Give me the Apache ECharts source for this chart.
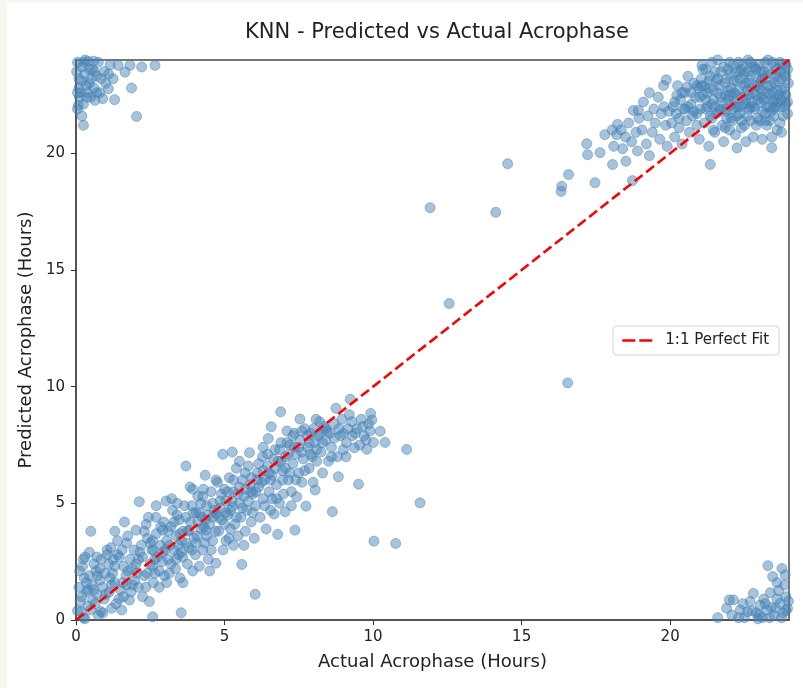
<!DOCTYPE html>
<html>
<head>
<meta charset="utf-8">
<title>KNN - Predicted vs Actual Acrophase</title>
<script src="https://cdn.jsdelivr.net/npm/echarts@6/dist/echarts.min.js"></script>
<style>
  html, body { margin: 0; padding: 0; background: #f8f6f1; }
  #chart { position: absolute; left: 7px; top: 3px; width: 796px; height: 685px; background: #fff; }
</style>
</head>
<body>
<div id="chart"></div>
<script>
// actual vs predicted acrophase (hours)
const lowBand = [
  [0.05,0.4],[0.1,1.4],[0.12,2.1],[0.17,0.36],[0.2,1.0],[0.22,2.3],[0.25,0.1],[0.28,1.8],[0.3,2.7],[0.35,1.2],
  [0.4,0.6],[0.45,1.9],[0.45,2.9],[0.5,0.43],[0.5,3.8],[0.55,1.5],[0.56,0.86],[0.6,2.4],[0.67,2.1],[0.7,1.1],
  [0.75,0.2],[0.8,1.7],[0.84,0.36],[0.85,2.6],[0.9,1.4],[0.95,0.9],[0.98,2.0],[0.3,0.05],[0.65,0.7],
  [0.15,0.8],[0.35,1.6],[0.6,1.3],[0.7,2.7],[0.9,0.3],[0.25,2.6],[0.72,1.9],[0.4,1.3],[0.8,2.2],
  [1.05,3.0],[1.1,2.4],[1.12,1.2],[1.18,3.1],[1.2,0.5],[1.23,2.0],[1.3,1.6],[1.31,3.8],[1.35,0.7],[1.4,2.8],
  [1.46,2.7],[1.5,1.3],[1.54,0.43],[1.57,1.6],[1.6,2.3],[1.63,4.2],[1.68,1.9],[1.7,3.3],[1.74,3.6],[1.8,0.86],
  [1.82,2.6],[1.85,1.2],[1.9,2.2],[1.95,3.0],[1.98,1.7],[1.4,3.4],[1.25,2.6],
  [1.0,1.1],[1.15,1.8],[1.3,2.3],[1.45,0.9],[1.6,1.0],[1.75,2.1],[1.9,1.5],[1.55,3.0],[1.05,2.8],[1.2,1.5],[1.7,1.5],
  [2.02,2.4],[2.02,3.85],[2.1,1.4],[2.13,5.07],[2.2,3.2],[2.24,2.7],[2.24,1.0],[2.3,1.9],[2.36,4.1],[2.4,3.5],
  [2.44,4.4],[2.47,0.79],[2.5,2.4],[2.55,3.0],[2.58,2.3],[2.58,3.4],[2.58,0.14],[2.6,1.6],[2.65,2.0],[2.69,4.4],
  [2.7,3.7],[2.75,2.7],[2.8,1.4],[2.85,3.2],[2.9,2.5],[2.92,3.85],[2.92,2.9],[2.95,4.2],[2.98,1.9],
  [2.05,2.0],[2.15,2.9],[2.3,3.8],[2.35,1.4],[2.5,3.3],[2.65,2.6],[2.8,2.1],[2.85,4.0],[2.7,4.9],
  [2.1,2.6],[2.4,2.0],[2.6,3.0],
  [3.03,5.1],[3.05,3.4],[3.1,2.6],[3.14,2.0],[3.2,4.0],[3.22,5.2],[3.25,4.7],[3.3,3.0],[3.35,2.2],[3.37,3.6],
  [3.37,2.6],[3.4,4.5],[3.45,3.2],[3.48,4.3],[3.5,1.8],[3.54,0.31],[3.55,2.9],[3.59,2.7],[3.6,3.8],[3.65,4.9],
  [3.7,6.6],[3.7,3.3],[3.75,2.4],[3.81,3.85],[3.84,5.7],[3.85,4.2],[3.9,3.0],[3.93,2.1],[3.93,5.6],[3.95,4.6],
  [3.98,3.5],[3.6,1.6],
  [3.0,3.0],[3.1,3.8],[3.2,2.4],[3.3,4.2],[3.45,2.8],[3.55,3.4],[3.7,4.4],[3.8,3.1],[3.9,4.9],[3.4,5.0],[3.05,1.6],
  [3.15,3.2],[3.5,3.7],[3.75,3.8],
  [4.02,2.8],[4.04,4.6],[4.08,3.6],[4.1,5.3],[4.15,2.3],[4.2,3.9],[4.25,4.4],[4.27,5.3],[4.27,3.0],[4.29,5.6],
  [4.32,3.3],[4.38,3.85],[4.4,4.9],[4.45,2.6],[4.5,4.1],[4.55,5.5],[4.6,3.4],[4.65,4.7],[4.71,6.0],[4.71,4.57],
  [4.71,2.43],[4.76,5.9],[4.8,3.8],[4.85,5.1],[4.9,4.3],[4.94,7.1],[4.95,3.0],[5.0,5.6],[4.5,2.1],[4.35,6.2],
  [4.05,3.3],[4.1,4.2],[4.2,5.0],[4.3,4.0],[4.45,4.5],[4.55,3.0],[4.6,5.0],[4.7,3.8],[4.8,4.4],[4.9,5.4],[4.4,3.6],
  [4.15,4.6],[4.35,4.3],[4.6,4.4],[4.85,4.8],
  [5.05,3.4],[5.05,5.1],[5.1,4.5],[5.16,6.1],[5.2,3.9],[5.26,7.2],[5.27,4.85],[5.3,5.5],[5.35,4.1],[5.4,6.5],
  [5.45,3.6],[5.5,5.0],[5.55,4.4],[5.58,2.38],[5.6,6.0],[5.65,5.3],[5.7,3.8],[5.75,4.7],[5.8,6.6],[5.84,7.17],
  [5.86,5.8],[5.9,4.2],[5.95,5.4],[6.0,3.5],[6.03,1.1],[5.3,3.2],[5.5,6.8],
  [5.0,4.1],[5.1,5.5],[5.2,4.7],[5.3,6.0],[5.4,4.4],[5.5,5.7],[5.6,4.8],[5.7,6.3],[5.8,5.1],[5.9,6.1],[5.95,4.6],
  [5.15,3.5],[5.65,3.2],[5.05,4.6],[5.25,5.1],[5.45,5.4],[5.7,5.6],[5.9,5.5],
  [6.05,4.9],[6.1,6.3],[6.15,5.7],[6.2,4.4],[6.28,7.0],[6.3,5.2],[6.35,6.0],[6.4,3.9],[6.45,6.6],[6.47,7.78],
  [6.5,5.5],[6.55,4.7],[6.57,8.28],[6.6,6.2],[6.67,4.54],[6.7,7.3],[6.75,5.8],[6.79,3.67],[6.8,6.8],[6.85,5.0],
  [6.89,8.92],[6.9,7.6],[6.95,6.4],[6.98,5.4],[6.3,7.4],
  [6.05,5.5],[6.15,6.7],[6.25,5.9],[6.35,4.9],[6.45,7.1],[6.55,6.0],[6.65,6.9],[6.75,5.2],[6.85,7.3],[6.95,6.0],
  [6.6,5.2],[6.1,6.0],[6.3,6.4],[6.5,6.3],[6.7,6.5],[6.9,6.8],
  [7.04,4.64],[7.05,7.0],[7.1,8.1],[7.15,6.0],[7.2,7.5],[7.25,5.5],[7.3,6.7],[7.35,8.0],[7.37,3.85],[7.4,7.1],
  [7.43,5.28],[7.5,6.3],[7.54,8.61],[7.55,7.7],[7.6,5.9],[7.65,6.9],[7.7,8.2],[7.74,4.88],[7.8,7.4],[7.85,6.5],
  [7.9,8.0],[7.95,7.0],[7.98,5.9],
  [7.05,6.5],[7.1,7.6],[7.2,6.3],[7.3,7.9],[7.4,6.0],[7.5,7.4],[7.6,8.1],[7.7,6.4],[7.8,7.9],[7.9,7.1],[7.25,4.9],
  [7.15,7.1],[7.35,7.4],[7.6,7.2],[7.85,7.6],
  [8.05,5.57],[8.05,7.6],[8.08,8.6],[8.1,6.8],[8.2,8.0],[8.25,7.2],[8.3,6.3],[8.35,8.3],[8.4,7.7],[8.5,6.8],
  [8.55,8.0],[8.6,7.4],[8.63,4.64],[8.7,8.4],[8.75,9.07],[8.8,7.0],[8.83,6.14],[8.9,7.9],[8.95,8.6],[9.0,7.3],
  [8.1,7.3],[8.2,8.5],[8.3,7.6],[8.45,8.1],[8.6,7.0],[8.7,7.8],[8.85,8.2],[9.0,8.0],[8.0,8.2],[8.15,7.9],[8.4,8.2],
  [9.09,7.0],[9.15,8.2],[9.23,9.46],[9.28,8.5],[9.37,7.38],[9.4,8.0],[9.51,5.82],[9.6,8.6],[9.7,7.9],[9.76,7.71],
  [9.79,7.32],[9.85,8.4],[9.92,8.85],[9.96,8.57],[10.01,7.61],[10.24,8.09],[10.4,7.61],
  [9.1,7.6],[9.2,8.8],[9.3,7.9],[9.45,8.2],[9.55,7.5],[9.65,8.3],[9.9,8.1]
];
const lowOutliers = [[10.03,3.38],[10.76,3.28],[11.58,5.02],[11.13,7.31]];
const midOutliers = [[11.92,17.67],[14.13,17.47],[14.53,19.55],[12.56,13.56],[16.55,10.16]];
const highSparse = [
  [16.33,18.37],[16.35,18.59],[16.58,19.09],[17.19,20.41],[17.22,19.94],[17.47,18.74],[17.64,20.03],[17.8,20.8],
  [18.06,19.52],[18.23,21.24],[18.51,19.66],[18.73,18.83],[18.76,21.84],[18.93,21.84],[19.78,22.91],[19.87,23.15],
  [20.22,22.48],[20.56,22.84],[21.07,23.77],[21.35,19.52],[22.25,20.23],[23.42,20.24],
  [18.1,20.3],[18.2,20.8],[18.35,21.0],[18.4,20.2],[18.6,21.3],[18.7,20.5],[18.85,20.9],[18.9,20.1],[18.95,21.5],
  [18.5,20.7],[18.05,21.0],
  [19.05,21.0],[19.1,22.2],[19.2,20.4],[19.25,21.6],[19.3,22.6],[19.4,20.9],[19.45,21.9],[19.5,21.3],[19.6,22.4],
  [19.65,20.6],[19.7,21.7],[19.8,22.0],[19.85,21.2],[19.9,20.3],[19.95,21.8],[19.3,19.9]
];
const highDense = [
  [20.05,21.3],[20.1,22.0],[20.15,20.7],[20.2,21.7],[20.25,22.9],[20.3,21.1],[20.35,22.3],[20.4,20.4],[20.45,21.9],
  [20.5,22.6],[20.55,21.4],[20.6,23.3],[20.65,20.9],[20.7,22.1],[20.75,21.6],[20.8,23.0],[20.85,22.4],[20.9,21.2],
  [20.95,22.8],[20.98,20.6],[20.6,22.0],[20.8,21.8],[20.9,22.9],[20.7,22.6],
  [20.9,21.7],[20.5,21.9],[20.3,21.5],[20.4,22.6],[20.15,22.2],
  [21.02,21.9],[21.05,23.2],[21.1,22.5],[21.15,21.3],[21.2,23.6],[21.25,22.0],[21.3,22.8],[21.35,21.6],[21.4,23.9],
  [21.45,22.3],[21.5,20.9],[21.55,23.1],[21.6,22.6],[21.65,21.8],[21.7,23.5],[21.75,22.2],[21.8,20.5],[21.85,23.0],
  [21.9,21.5],[21.95,22.7],[21.3,20.3],[21.6,24.0],[21.15,22.9],[21.85,21.1],[21.5,22.0],
  [21.0,22.4],[21.1,23.6],[21.2,21.9],[21.25,22.6],[21.35,23.3],[21.4,22.1],[21.5,23.5],[21.55,21.7],[21.65,22.9],
  [21.7,22.4],[21.8,23.7],[21.85,21.9],[21.9,23.2],[21.95,22.3],[21.75,21.2],[21.45,21.0],
  [21.05,22.9],[21.2,22.3],[21.3,23.1],[21.45,22.7],[21.6,23.2],[21.7,21.9],[21.85,22.5],[21.95,23.6],[21.9,21.8],
  [21.4,21.5],
  [22.02,23.4],[22.05,22.1],[22.1,21.4],[22.12,23.8],[22.15,22.6],[22.2,20.8],[22.25,23.1],[22.3,22.0],[22.35,21.7],
  [22.4,23.6],[22.45,22.4],[22.5,21.2],[22.55,23.0],[22.6,22.7],[22.62,24.0],[22.65,21.9],[22.7,23.3],[22.75,22.2],
  [22.8,20.7],[22.85,23.7],[22.9,22.5],[22.95,21.5],[22.3,23.9],[22.5,22.9],[22.7,21.4],[22.15,22.3],[22.85,22.9],
  [22.4,21.1],[22.6,23.5],[22.0,21.0],
  [22.0,23.9],[22.05,22.8],[22.1,21.9],[22.2,23.5],[22.25,22.5],[22.35,23.2],[22.4,22.0],[22.45,23.8],[22.55,22.3],
  [22.6,21.6],[22.65,23.0],[22.75,23.7],[22.8,22.6],[22.85,21.9],[22.9,23.3],[22.95,22.9],[22.7,22.0],[22.25,21.6],
  [22.55,20.5],[22.0,22.5],
  [22.05,21.5],[22.15,23.1],[22.2,22.0],[22.3,22.7],[22.35,23.5],[22.5,22.1],[22.5,23.4],[22.65,22.5],[22.7,23.9],
  [22.8,22.0],[22.9,23.6],[22.95,22.3],[22.9,21.2],[22.4,21.4],
  [23.02,22.8],[23.05,23.5],[23.1,21.8],[23.15,22.3],[23.2,23.9],[23.25,21.2],[23.3,22.9],[23.35,22.0],[23.4,23.4],
  [23.42,20.7],[23.45,22.6],[23.5,21.6],[23.55,23.7],[23.6,22.2],[23.65,23.1],[23.7,21.3],[23.75,22.7],[23.8,23.8],
  [23.85,22.0],[23.9,23.3],[23.95,21.7],[23.3,24.0],[23.6,21.0],[23.1,23.2],[23.9,22.5],[23.5,22.3],[23.7,23.5],
  [23.0,21.4],
  [23.0,23.8],[23.05,22.2],[23.1,22.7],[23.15,23.5],[23.2,21.7],[23.25,22.6],[23.3,23.5],[23.35,22.5],[23.4,21.8],
  [23.45,23.9],[23.5,23.0],[23.55,22.0],[23.6,23.6],[23.65,22.5],[23.7,22.0],[23.75,23.2],[23.8,21.6],[23.85,22.8],
  [23.9,23.8],[23.95,22.2],[23.98,23.0],[23.8,22.4],[23.35,21.4],[23.1,20.6],[23.75,20.9],
  [23.05,23.1],[23.1,22.4],[23.2,23.2],[23.25,22.0],[23.4,22.9],[23.45,22.2],[23.55,23.3],[23.6,22.7],[23.7,23.9],
  [23.75,22.3],[23.85,23.4],[23.9,22.1],[23.95,23.6],[23.5,21.9],[23.2,21.4]
];
const wrapTopLeft = [
  [0.05,23.9],[0.1,23.2],[0.15,22.6],[0.2,23.7],[0.25,22.1],[0.3,23.4],[0.35,22.9],[0.4,23.95],[0.45,23.0],
  [0.5,22.4],[0.55,23.6],[0.6,22.8],[0.64,22.27],[0.7,23.3],[0.75,23.9],[0.8,22.6],[0.9,22.34],[0.95,23.5],
  [1.0,23.0],[1.09,22.77],[1.15,23.8],[1.25,23.2],[1.42,23.77],[1.65,23.48],[1.82,23.77],[1.87,22.8],[2.04,21.58],
  [2.21,23.7],[2.66,23.77],[0.08,22.05],[0.05,21.9],[0.2,21.6],[0.12,22.4],[0.3,24.0],[0.6,23.95],[1.3,22.3],
  [0.02,23.5],[0.1,22.8],[0.18,23.1],[0.25,23.9],[0.35,22.4],[0.45,23.6],[0.5,23.2],[0.62,23.5],[0.7,22.6],
  [0.85,23.2],[0.05,22.6],[0.4,22.6],[1.1,23.4],[0.25,21.2]
];
const wrapBottomRight = [
  [21.6,0.1],[21.9,0.5],[22.08,0.21],[22.13,0.86],[22.36,0.43],[22.5,0.1],[22.69,0.79],[22.8,1.14],[22.9,0.3],
  [23.03,0.64],[23.1,0.1],[23.25,0.43],[23.29,2.33],[23.37,1.17],[23.45,1.86],[23.5,0.2],[23.6,0.9],[23.65,1.26],
  [23.7,0.71],[23.76,2.21],[23.8,0.3],[23.87,1.93],[23.9,1.0],[23.95,0.5],[22.6,0.35],[23.15,0.9],[23.4,0.55],
  [23.85,1.5],[22.95,0.05],[21.99,0.86],
  [22.3,0.1],[22.75,0.4],[23.0,0.2],[23.2,0.7],[23.55,0.5],[23.75,0.1],[23.9,0.4],[22.45,0.7],[23.35,0.1],
  [23.98,0.8],[23.6,1.6]
];
const fitLine = [[0, 0], [24, 24]];
const axisMin = 0;
const axisMax = 24;
const tickStep = 5;

const points = [].concat(lowBand, lowOutliers, midOutliers, highSparse, highDense, wrapTopLeft, wrapBottomRight);
const fontFamily = 'DejaVu Sans';

const chart = echarts.init(document.getElementById('chart'));
const option = {
  animation: false,
  backgroundColor: '#fff',
  textStyle: { fontFamily: fontFamily },
  title: {
    text: 'KNN - Predicted vs Actual Acrophase',
    left: 425,
    top: 14,
    textAlign: 'center',
    textStyle: { fontFamily: fontFamily, fontSize: 21, fontWeight: 'normal', color: '#222' }
  },
  legend: {
    left: 606,
    top: 323,
    padding: [7, 10, 7, 8],
    itemWidth: 30,
    itemHeight: 14,
    backgroundColor: '#fff',
    borderColor: '#d6d6d6',
    borderWidth: 1,
    borderRadius: 4,
    itemStyle: { opacity: 0 },
    lineStyle: { color: '#ff0000', width: 2.6, type: [13, 4] },
    textStyle: { fontFamily: fontFamily, fontSize: 15, color: '#222', padding: [0, 0, 0, 8] },
    data: ['1:1 Perfect Fit']
  },
  grid: {
    left: 69,
    top: 57,
    right: 14,
    bottom: 68,
    show: true,
    borderColor: '#4a4a4a',
    borderWidth: 1.5
  },
  xAxis: {
    type: 'value',
    min: axisMin,
    max: axisMax,
    interval: tickStep,
    name: 'Actual Acrophase (Hours)',
    nameLocation: 'middle',
    nameGap: 33,
    nameTextStyle: { fontFamily: fontFamily, fontSize: 18, color: '#222' },
    axisLine: { show: true, lineStyle: { color: '#4a4a4a', width: 1.5 } },
    axisTick: { show: true, inside: false, length: 5, lineStyle: { color: '#333' } },
    axisLabel: { fontSize: 15, color: '#222', margin: 10, showMaxLabel: false },
    splitLine: { show: false }
  },
  yAxis: {
    type: 'value',
    min: axisMin,
    max: axisMax,
    interval: tickStep,
    name: 'Predicted Acrophase (Hours)',
    nameLocation: 'middle',
    nameGap: 40,
    nameTextStyle: { fontFamily: fontFamily, fontSize: 18, color: '#222' },
    axisLine: { show: true, lineStyle: { color: '#4a4a4a', width: 1.5 } },
    axisTick: { show: true, inside: false, length: 5, lineStyle: { color: '#333' } },
    axisLabel: { fontSize: 15, color: '#222', margin: 11, showMaxLabel: false },
    splitLine: { show: false }
  },
  series: [
    {
      name: 'Predictions',
      type: 'scatter',
      symbolSize: 10,
      itemStyle: {
        color: 'rgba(70,130,180,0.6)',
        borderColor: 'rgba(70,130,180,0.6)',
        borderWidth: 1
      },
      emphasis: { disabled: true },
      data: points,
      z: 2
    },
    {
      name: '1:1 Perfect Fit',
      type: 'line',
      symbol: 'none',
      color: '#ff0000',
      lineStyle: { color: '#ff0000', width: 2.6, type: [10, 4.5] },
      data: fitLine,
      z: 5
    }
  ]
};
chart.setOption(option);
</script>
</body>
</html>
